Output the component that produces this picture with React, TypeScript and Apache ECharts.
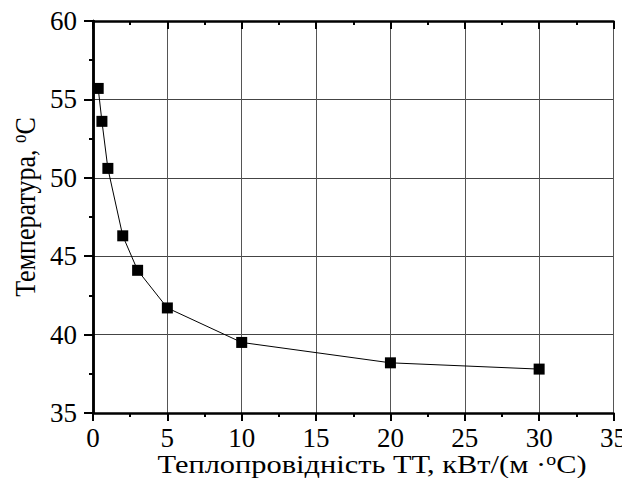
import React, { useEffect, useRef } from "react";
import * as echarts from "echarts";

const conductivity = [0.35, 0.6, 1, 2, 3, 5, 10, 20, 30];
const temperature = [55.7, 53.6, 50.6, 46.3, 44.1, 41.7, 39.5, 38.2, 37.8];
const xTicks = [0, 5, 10, 15, 20, 25, 30, 35];
const yTicks = [35, 40, 45, 50, 55, 60];
const xName = "Теплопровідність ТТ, кВт/(м ·{sup|o}C)";
const yName = "Температура, {sup|o}C";

const FONT = "Liberation Serif";

export default function App() {
  const ref = useRef<HTMLDivElement>(null);
  useEffect(() => {
    if (!ref.current) return;
    const chart = echarts.init(ref.current, null, { renderer: "svg" });
    const data = conductivity.map((x, i) => [x, temperature[i]]);
    const titleFont = 26;
    const sup = { fontSize: 17, fontFamily: FONT, fill: "#000", verticalAlign: "top", padding: [0, 0, 10, 0] };
    const axisLine = { show: true, lineStyle: { color: "#000", width: 2.5 } };
    const tickStyle = { color: "#000", width: 2 };
    const axisCommonX = {
      type: "value",
      min: xTicks[0],
      max: xTicks[xTicks.length - 1],
      interval: 5,
    };
    const axisCommonY = {
      type: "value",
      min: yTicks[0],
      max: yTicks[yTicks.length - 1],
      interval: 5,
    };
    chart.setOption({
      animation: false,
      backgroundColor: "#fff",
      grid: { left: 93, right: 16, top: 21, bottom: 73, containLabel: false },
      graphic: [
        {
          type: "text",
          x: 372,
          y: 464,
          scaleX: 1.17,
          style: {
            text: xName,
            fontFamily: FONT,
            fontSize: titleFont,
            fill: "#000",
            align: "center",
            verticalAlign: "middle",
            rich: { sup },
          },
        },
        {
          type: "text",
          x: 25,
          y: 207,
          rotation: Math.PI / 2,
          scaleY: 1.17,
          style: {
            text: yName,
            fontFamily: FONT,
            fontSize: titleFont,
            fill: "#000",
            align: "center",
            verticalAlign: "middle",
            rich: { sup },
          },
        },
      ],
      xAxis: [
        {
          ...axisCommonX,
          position: "bottom",
          axisLine,
          axisTick: { show: true, inside: false, length: 8, lineStyle: tickStyle },
          minorTick: { show: true, splitNumber: 2, length: 4, lineStyle: tickStyle },
          axisLabel: { fontFamily: FONT, fontSize: 27, lineHeight: 20, color: "#000", margin: 15 },
          splitLine: { show: true, lineStyle: { color: "#555", width: 1 } },
        },
        {
          ...axisCommonX,
          position: "top",
          axisLine,
          axisTick: { show: true, inside: true, length: 8, lineStyle: tickStyle },
          minorTick: { show: true, splitNumber: 2, length: 4, lineStyle: tickStyle },
          axisLabel: { show: false },
          splitLine: { show: false },
        },
      ],
      yAxis: [
        {
          ...axisCommonY,
          position: "left",
          axisLine,
          axisTick: { show: true, inside: false, length: 9, lineStyle: tickStyle },
          minorTick: { show: true, splitNumber: 2, length: 4, lineStyle: tickStyle },
          axisLabel: { fontFamily: FONT, fontSize: 27, lineHeight: 20, color: "#000", margin: 16 },
          splitLine: { show: true, lineStyle: { color: "#444", width: 1 } },
        },
        {
          ...axisCommonY,
          position: "right",
          axisLine,
          axisTick: { show: true, inside: true, length: 8, lineStyle: tickStyle },
          minorTick: { show: true, splitNumber: 2, length: 4, lineStyle: tickStyle },
          axisLabel: { show: false },
          splitLine: { show: false },
        },
      ],
      series: [
        {
          type: "line",
          data,
          xAxisIndex: 0,
          yAxisIndex: 0,
          symbol: "rect",
          symbolSize: 11,
          itemStyle: { color: "#000" },
          lineStyle: { color: "#000", width: 1 },
          smooth: false,
        },
      ],
    });
    return () => chart.dispose();
  }, []);
  return <div ref={ref} style={{ width: 630, height: 486, margin: -8 }} />;
}
